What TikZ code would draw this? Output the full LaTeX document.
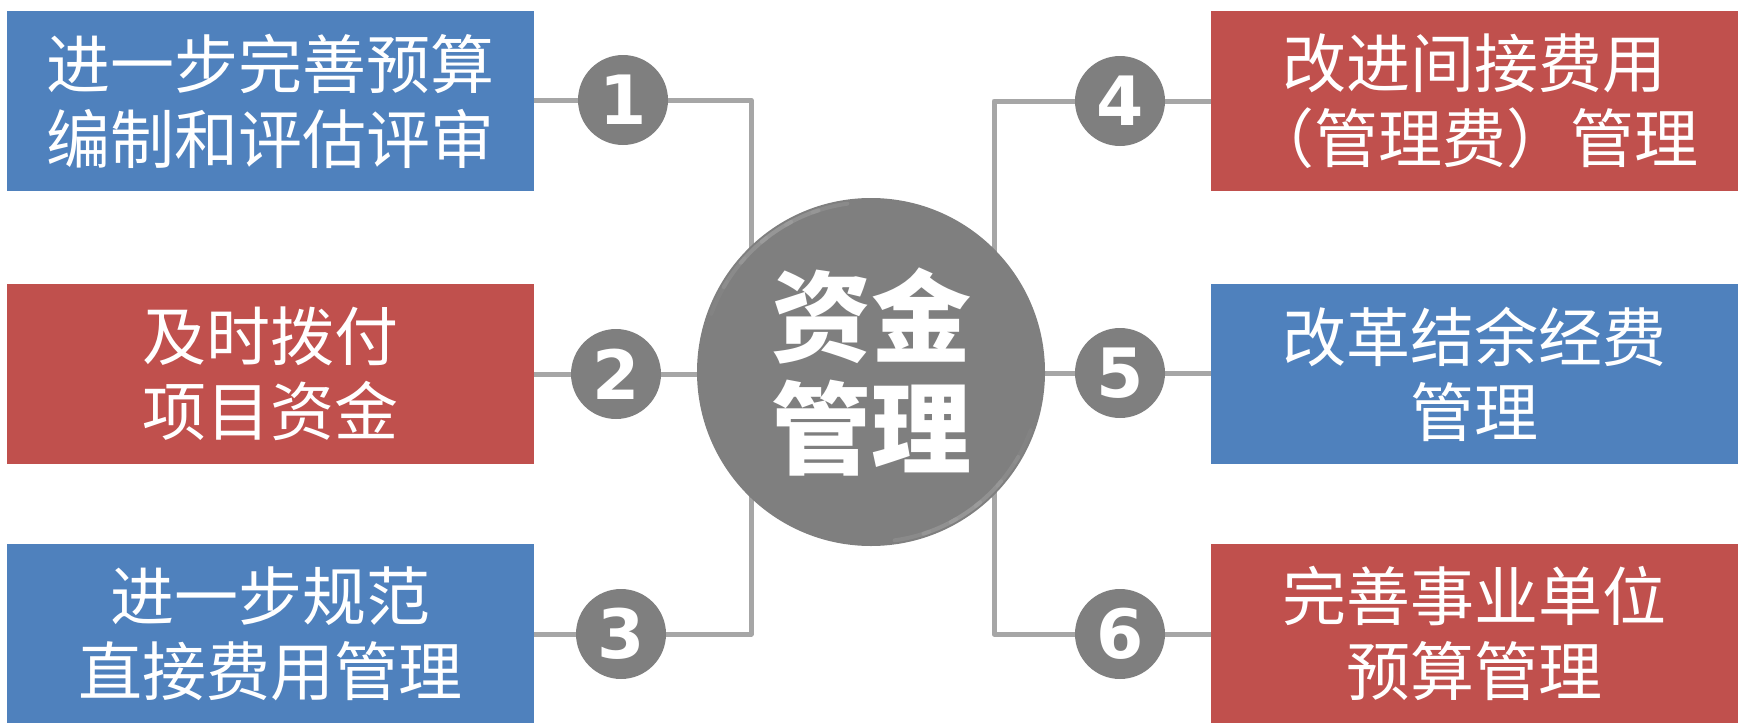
\documentclass[tikz,border=0pt]{standalone}
\usepackage{fontspec}
\newfontfamily\cjk{Noto Sans CJK SC}
\newfontfamily\numfont{DejaVu Sans}
\definecolor{boxblue}{HTML}{4F81BD}
\definecolor{boxred}{HTML}{C0504D}
\definecolor{linegray}{HTML}{A6A6A6}
\definecolor{dotgray}{HTML}{7F7F7F}
\definecolor{rimgray}{HTML}{A0A0A0}
\tikzset{
  box/.style={rectangle, inner sep=0pt, minimum width=527, minimum height=180,
    text=white, align=center, font=\cjk\fontsize{64}{75}\selectfont},
  bluebox/.style={box, fill=boxblue},
  redbox/.style={box, fill=boxred},
  numdot/.style={circle, fill=dotgray, minimum size=90, inner sep=0pt,
    text=white, font=\numfont\bfseries\fontsize{68}{68}\selectfont},
  conn/.style={draw=linegray, line width=5pt, line join=round},
  hub/.style={circle, fill=dotgray, minimum size=348, inner sep=0pt,
    text=white, align=center, font=\cjk\bfseries\fontsize{100}{112}\selectfont},
  rim/.style={rimgray, line width=4pt, line cap=round}
}
\begin{document}
\begin{tikzpicture}[x=1pt,y=-1pt]
\useasboundingbox (0,0) rectangle (1738,723);
% boxes
\node[bluebox] (b1) at (270.5,101) {进一步完善预算\\编制和评估评审};
\node[redbox]  (b2) at (270.5,374) {及时拨付\\项目资金};
\node[bluebox, minimum height=179] (b3) at (270.5,633.5) {进一步规范\\直接费用管理};
\node[redbox]  (b4) at (1474.5,101) {改进间接费用\\（管理费）管理};
\node[bluebox] (b5) at (1474.5,374) {改革结余经费\\管理};
\node[redbox, minimum height=179] (b6) at (1474.5,633.5) {完善事业单位\\预算管理};
% positions of dots and hub
\coordinate (p1) at (623,100);
\coordinate (p2) at (616,374);
\coordinate (p3) at (621,634);
\coordinate (p4) at (1120,101);
\coordinate (p5) at (1120,373);
\coordinate (p6) at (1120,634);
\coordinate (pc) at (871,372);
\coordinate (k1) at (751,100);
\coordinate (k3) at (751,634);
\coordinate (k4) at (994,101);
\coordinate (k6) at (994,634);
% connectors
\draw[conn] (b1.east |- p1) -- (k1) -- (k1 |- pc);
\draw[conn] (b3.east |- p3) -- (k3) -- (k3 |- pc);
\draw[conn] (b2.east |- p2) -- (p2 -| pc);
\draw[conn] (b4.west |- p4) -- (k4) -- (k4 |- pc);
\draw[conn] (b6.west |- p6) -- (k6) -- (k6 |- pc);
\draw[conn] (b5.west |- p5) -- (p5 -| pc);
% numbered dots
\node[numdot] (c1) at (p1) {1};
\node[numdot] (c2) at (p2) {2};
\node[numdot] (c3) at (p3) {3};
\node[numdot] (c4) at (p4) {4};
\node[numdot] (c5) at (p5) {5};
\node[numdot] (c6) at (p6) {6};
% hub
\node[hub] (cc) at (pc) {资金\\管理};
\begin{scope}
  \clip (pc) circle (174);
  \foreach \a/\o in {20/0.15,30/0.35,40/0.55,50/0.7,60/0.55,70/0.35} {
    \draw[rim, opacity=\o] ([shift={(\a:170)}]pc) arc[start angle=\a, end angle=\a+12, radius=170];
  }
  \foreach \a/\o in {200/0.15,210/0.35,220/0.55,230/0.7,240/0.55,250/0.35} {
    \draw[rim, opacity=\o] ([shift={(\a:170)}]pc) arc[start angle=\a, end angle=\a+12, radius=170];
  }
\end{scope}
\end{tikzpicture}
\end{document}
